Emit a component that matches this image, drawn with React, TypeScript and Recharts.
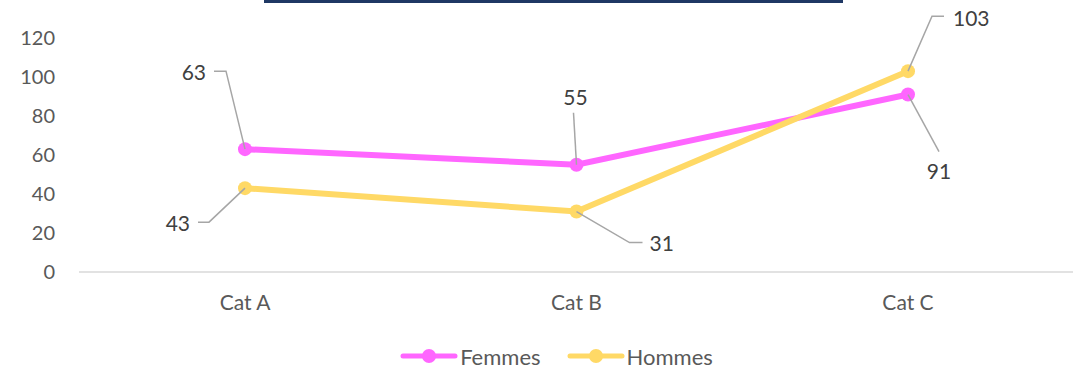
import React from 'react';
import { LineChart, Line, XAxis, YAxis, Legend, LabelList } from 'recharts';

const categories = ['Cat A', 'Cat B', 'Cat C'];
const femmes = [63, 55, 91];
const hommes = [43, 31, 103];
const yTicks = [0, 20, 40, 60, 80, 100, 120];

const PINK = '#FF66FF';
const YELLOW = '#FFD966';
const FONT = 'Lato, "Open Sans", sans-serif';

const data = categories.map((name, i) => ({ name, Femmes: femmes[i], Hommes: hommes[i] }));

// leader-line callouts: path points relative to the marker, then the text spot
type Callout = { path: [number, number][]; tx: number; ty: number; anchor: 'start' | 'middle' | 'end' };

const femmesCallouts: Callout[] = [
    { path: [[-19, -78], [-31, -78]], tx: -39, ty: -78, anchor: 'end' },
    { path: [[-3, -52]], tx: -1, ty: -68, anchor: 'middle' },
    { path: [[31, 57]], tx: 31, ty: 76, anchor: 'middle' },
];
const hommesCallouts: Callout[] = [
    { path: [[-36, 34], [-47, 34]], tx: -55, ty: 34, anchor: 'end' },
    { path: [[53, 31], [66, 31]], tx: 73, ty: 31, anchor: 'start' },
    { path: [[24, -55], [36, -55]], tx: 45, ty: -54, anchor: 'start' },
];

const makeCallout = (callouts: Callout[]) => (props: any) => {
    const { x, y, value, index } = props;
    const c = callouts[index];
    if (!c) return null;
    const d = `M${x},${y} ` + c.path.map(([dx, dy]) => `L${x + dx},${y + dy}`).join(' ');
    return (
        <g>
            <path d={d} stroke="#A6A6A6" strokeWidth={1.5} fill="none" />
            <text
                x={x + c.tx}
                y={y + c.ty}
                textAnchor={c.anchor}
                dominantBaseline="central"
                fill="#404040"
                fontSize={21}
                fontFamily={FONT}
            >
                {value}
            </text>
        </g>
    );
};

const renderLegend = () => (
    <div style={{ display: 'flex', justifyContent: 'center', alignItems: 'center', height: 26, paddingLeft: 40, fontFamily: FONT, fontSize: 22, color: '#595959' }}>
        {[{ name: 'Femmes', color: PINK }, { name: 'Hommes', color: YELLOW }].map((it, i) => (
            <div key={it.name} style={{ display: 'flex', alignItems: 'center', marginLeft: i ? 26 : 0 }}>
                <svg width={58} height={18}>
                    <line x1={3} y1={9} x2={55} y2={9} stroke={it.color} strokeWidth={5} strokeLinecap="round" />
                    <circle cx={29} cy={9} r={7} fill={it.color} />
                </svg>
                <span style={{ marginLeft: 2 }}>{it.name}</span>
            </div>
        ))}
    </div>
);

export default function App() {
    return (
        <div style={{ position: 'absolute', left: 0, top: 0, width: 1081, height: 369, background: '#fff' }}>
            {/* underline of the clipped heading */}
            <div style={{ position: 'absolute', left: 264, top: 0, width: 579, height: 3, background: '#1F3864' }} />
            <LineChart width={1081} height={369} data={data} margin={{ top: 38, right: 8, left: 0, bottom: 0 }}>
                <XAxis
                    dataKey="name"
                    height={71}
                    padding={{ left: 166, right: 165 }}
                    axisLine={{ stroke: '#D9D9D9', strokeWidth: 1.5 }}
                    tickLine={false}
                    tickSize={0}
                    tickMargin={23}
                    tick={{ fill: '#595959', fontSize: 21, fontFamily: FONT }}
                />
                <YAxis
                    width={79}
                    domain={[0, 120]}
                    ticks={yTicks}
                    axisLine={false}
                    tickLine={false}
                    tickSize={0}
                    tickMargin={24}
                    tick={{ fill: '#595959', fontSize: 20, fontFamily: FONT }}
                />
                <Legend verticalAlign="bottom" content={renderLegend} />
                <Line
                    dataKey="Femmes"
                    stroke={PINK}
                    strokeWidth={6}
                    dot={{ r: 7, fill: PINK, stroke: PINK, strokeWidth: 0 }}
                    activeDot={false}
                    isAnimationActive={false}
                >
                    <LabelList dataKey="Femmes" content={makeCallout(femmesCallouts)} />
                </Line>
                <Line
                    dataKey="Hommes"
                    stroke={YELLOW}
                    strokeWidth={6}
                    dot={{ r: 7, fill: YELLOW, stroke: YELLOW, strokeWidth: 0 }}
                    activeDot={false}
                    isAnimationActive={false}
                >
                    <LabelList dataKey="Hommes" content={makeCallout(hommesCallouts)} />
                </Line>
            </LineChart>
        </div>
    );
}
